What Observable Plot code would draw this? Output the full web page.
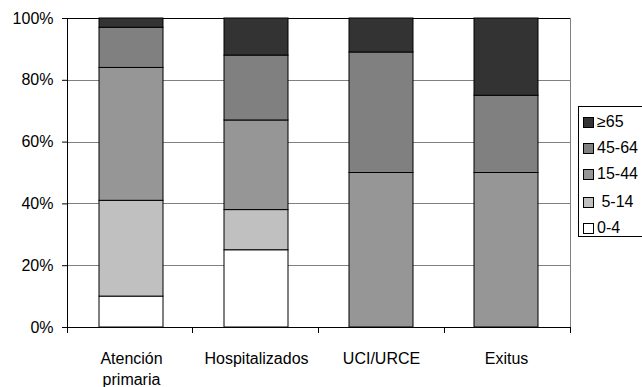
<!DOCTYPE html>
<html>
<head>
<meta charset="utf-8">
<script src="https://cdn.jsdelivr.net/npm/d3@7"></script>
<script src="https://cdn.jsdelivr.net/npm/@observablehq/plot@0.6"></script>
<style>
  html, body { margin: 0; padding: 0; background: #fff; }
  #wrap { position: relative; width: 642px; height: 387px; overflow: hidden; font-family: "Liberation Sans", Arial, sans-serif; }
  #legend { position: absolute; left: 578px; top: 106px; width: 70px; height: 131px; border: 1px solid #000; background: #fff; box-sizing: border-box; }
  .item { position: absolute; left: 4px; height: 18px; display: flex; align-items: center; font-size: 16px; color: #000; white-space: pre; }
  .sw { width: 9px; height: 9px; border: 1px solid #000; margin-right: 3px; flex: none; }
</style>
</head>
<body>
<div id="wrap"></div>
<script>
const categories = ["Atención primaria", "Hospitalizados", "UCI/URCE", "Exitus"];
const categoryLabels = ["Atención\nprimaria", "Hospitalizados", "UCI/URCE", "Exitus"];
const ageGroups = ["0-4", "5-14", "15-44", "45-64", "≥65"];
const ageLabels = ["0-4", " 5-14", "15-44", "45-64", "≥65"];
const ageColors = ["#ffffff", "#c0c0c0", "#969696", "#808080", "#333333"];
const v0_4   = [10, 25, 0, 0];
const v5_14  = [31, 13, 0, 0];
const v15_44 = [43, 29, 50, 50];
const v45_64 = [13, 21, 39, 25];
const v65    = [3, 12, 11, 25];
const yTicks = [0, 20, 40, 60, 80, 100];
const gridTicks = [20, 40, 60, 80, 100];

const series = [v0_4, v5_14, v15_44, v45_64, v65];
const rows = [];
ageGroups.forEach((g, gi) => categories.forEach((c, ci) => {
  if (series[gi][ci] > 0) rows.push({category: c, age: g, value: series[gi][ci]});
}));

const W = 642, H = 387, mL = 67, mR = 72, mT = 18, mB = 60;

const boundaryTicks = (index, scales, values, dims) => {
  const n = categories.length;
  const step = (dims.width - dims.marginLeft - dims.marginRight) / n;
  const y0 = dims.height - dims.marginBottom;
  const g = d3.create("svg:g");
  for (let i = 0; i <= n; i++) {
    const x = dims.marginLeft + i * step;
    g.append("line").attr("x1", x).attr("x2", x).attr("y1", y0).attr("y2", y0 + 6)
      .attr("stroke", "#000").attr("shape-rendering", "crispEdges");
  }
  // right border of plot area
  const xr = dims.width - dims.marginRight;
  g.append("line").attr("x1", xr).attr("x2", xr).attr("y1", dims.marginTop).attr("y2", y0)
    .attr("stroke", "#808080").attr("shape-rendering", "crispEdges");
  return g.node();
};

const chart = Plot.plot({
  width: W, height: H,
  marginLeft: mL, marginRight: mR, marginTop: mT, marginBottom: mB,
  style: {fontFamily: "'Liberation Sans', Arial, sans-serif", fontSize: "16px", background: "#fff", color: "#000"},
  x: {domain: categories, paddingInner: 0.49, paddingOuter: 0.245, label: null},
  y: {domain: [0, 100], label: null},
  color: {domain: ageGroups, range: ageColors},
  marks: [
    Plot.ruleY(gridTicks.slice(0, -1), {stroke: "#808080", strokeWidth: 1, shapeRendering: "crispEdges"}),
    Plot.ruleY([100], {stroke: "#000", strokeWidth: 1, shapeRendering: "crispEdges"}),
    Plot.barY(rows, {x: "category", y: "value", fill: "age", stroke: "#000", strokeWidth: 1, order: ageGroups}),
    Plot.axisY({ticks: yTicks, tickFormat: d => d + "%", tickSize: 5, tickPadding: 9, fontSize: 16, stroke: "#000", strokeOpacity: 1}),
    Plot.ruleX([categories[0]], {dx: 0, stroke: "none"}),
    Plot.axisX({tickSize: 0, tickPadding: 22, fontSize: 16, lineHeight: 1.3,
      tickFormat: d => categoryLabels[categories.indexOf(d)]}),
    Plot.ruleY([0], {stroke: "#000", shapeRendering: "crispEdges"}),
    boundaryTicks,
    (index, scales, values, dims) => {
      const g = d3.create("svg:g");
      g.append("line").attr("x1", dims.marginLeft).attr("x2", dims.marginLeft)
        .attr("y1", dims.marginTop).attr("y2", dims.height - dims.marginBottom)
        .attr("stroke", "#000").attr("shape-rendering", "crispEdges");
      return g.node();
    }
  ]
});

const wrap = document.getElementById("wrap");
wrap.appendChild(chart);

const legend = document.createElement("div");
legend.id = "legend";
const legendOrder = [4, 3, 2, 1, 0];
const legendTops = [6, 32, 58, 86, 112];
legendOrder.forEach((gi, k) => {
  const item = document.createElement("div");
  item.className = "item";
  item.style.top = legendTops[k] + "px";
  const sw = document.createElement("div");
  sw.className = "sw";
  sw.style.background = ageColors[gi];
  item.appendChild(sw);
  item.appendChild(document.createTextNode(ageLabels[gi]));
  legend.appendChild(item);
});
wrap.appendChild(legend);
</script>
</body>
</html>
